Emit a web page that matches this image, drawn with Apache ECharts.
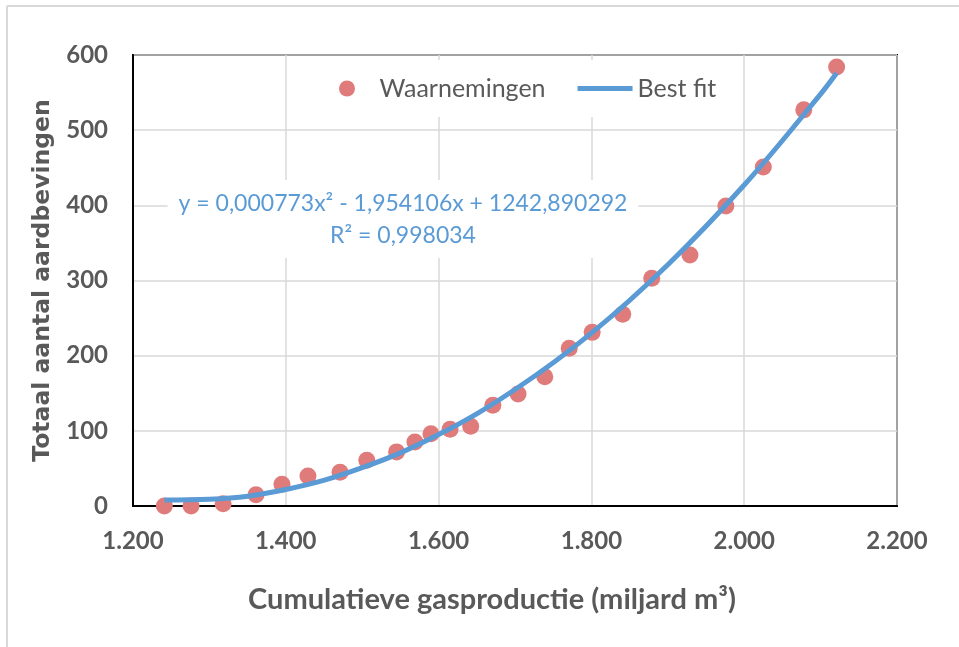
<!DOCTYPE html>
<html>
<head>
<meta charset="utf-8">
<script src="https://cdn.jsdelivr.net/npm/echarts@6/dist/echarts.min.js"></script>
<style>
  html, body { margin: 0; padding: 0; background: #fff; }
  #chart { width: 959px; height: 647px; }
</style>
</head>
<body>
<div id="chart"></div>
<script>
// observations: cumulative gas production (bn m3) vs total earthquakes
var obsGas = [1241, 1276, 1318, 1361, 1395, 1429, 1471, 1506, 1545, 1569, 1590, 1615, 1642,
              1671, 1704, 1739, 1771, 1801, 1841, 1879, 1929, 1976, 2025, 2078, 2121];
var obsQuakes = [0, 0, 3, 15, 29, 40, 45, 61, 72, 85, 96, 102, 106,
                 134, 149, 172, 210, 231, 255, 303, 334, 399, 451, 527, 584];

// best fit curve
var fitGas = [1241, 1300, 1400, 1500, 1600, 1700, 1800, 1900, 2000, 2100, 2121];
var fitQuakes = [8, 9, 22, 51, 95, 155, 230, 321, 427, 548, 576];

var xTicks = [1200, 1400, 1600, 1800, 2000, 2200];
var yTicks = [0, 100, 200, 300, 400, 500, 600];

var eqText = 'y = 0,000773x² - 1,954106x + 1242,890292';
var r2Text = 'R² = 0,998034';

function zip(a, b) {
    return a.map(function (v, i) { return [v, b[i]]; });
}

var chart = echarts.init(document.getElementById('chart'));
var grey = '#595959';

var option = {
    animation: false,
    grid: {
        left: 133, top: 55, right: 62, bottom: 141,
        show: true, borderColor: '#000', borderWidth: 2
    },
    legend: {
        left: 321, top: 60,
        padding: [16, 18],
        backgroundColor: '#fff',
        itemWidth: 55, itemHeight: 16, itemGap: 32,
        textStyle: { fontFamily: 'Lato', fontSize: 25, color: grey },
        data: [
            { name: 'Waarnemingen', icon: 'circle' },
            { name: 'Best fit', icon: 'path://M0,0L55,0L55,5L0,5Z' }
        ]
    },
    xAxis: {
        type: 'value',
        min: xTicks[0], max: xTicks[xTicks.length - 1], interval: 200,
        axisLine: { show: true, lineStyle: { color: '#000', width: 2 } },
        axisTick: { show: false },
        splitLine: { lineStyle: { color: '#d9d9d9', width: 1.5 } },
        axisLabel: {
            margin: 23, color: grey, fontFamily: 'Lato', fontWeight: 'bold', fontSize: 24,
            formatter: function (v) { return (v / 1000).toFixed(3); }
        },
        name: 'Cumulatieve gasproductie (miljard m³)',
        nameLocation: 'middle', nameGap: 79,
        nameTextStyle: {
            color: grey, fontFamily: 'Lato', fontWeight: 'bold', fontSize: 29,
            padding: [0, 46, 0, 0]
        }
    },
    yAxis: {
        type: 'value',
        min: yTicks[0], max: yTicks[yTicks.length - 1], interval: 100,
        axisLine: { show: true, lineStyle: { color: '#000', width: 2 } },
        axisTick: { show: false },
        splitLine: { lineStyle: { color: '#d9d9d9', width: 1.5 } },
        axisLabel: {
            margin: 25, color: grey, fontFamily: 'Lato', fontWeight: 'bold', fontSize: 24
        },
        name: 'Totaal aantal aardbevingen',
        nameLocation: 'middle', nameGap: 74,
        nameTextStyle: { color: grey, fontFamily: 'DejaVu Sans', fontWeight: 'bold', fontSize: 23.5 }
    },
    graphic: [
        { type: 'line', shape: { x1: 7, y1: 6, x2: 959, y2: 6 }, style: { stroke: '#d9d9d9', lineWidth: 2 } },
        { type: 'line', shape: { x1: 7, y1: 6, x2: 7, y2: 647 }, style: { stroke: '#d9d9d9', lineWidth: 2 } },
        {
            type: 'text', x: 403, y: 180, z: 50,
            style: {
                text: eqText + '\n' + r2Text,
                align: 'center',
                verticalAlign: 'top',
                fontFamily: 'Lato', fontSize: 23, lineHeight: 32,
                fill: '#5b9bd5',
                backgroundColor: '#fff',
                padding: [8, 11, 6, 11]
            }
        }
    ],
    series: [
        {
            name: 'Waarnemingen',
            type: 'scatter',
            symbolSize: 17,
            itemStyle: { color: '#e07b7b', opacity: 1 },
            z: 2,
            data: zip(obsGas, obsQuakes)
        },
        {
            name: 'Best fit',
            type: 'line',
            smooth: 0.4,
            symbol: 'none',
            lineStyle: { color: '#5b9bd5', width: 5 },
            itemStyle: { color: '#5b9bd5' },
            z: 3,
            data: zip(fitGas, fitQuakes)
        }
    ]
};
chart.setOption(option);
</script>
</body>
</html>
